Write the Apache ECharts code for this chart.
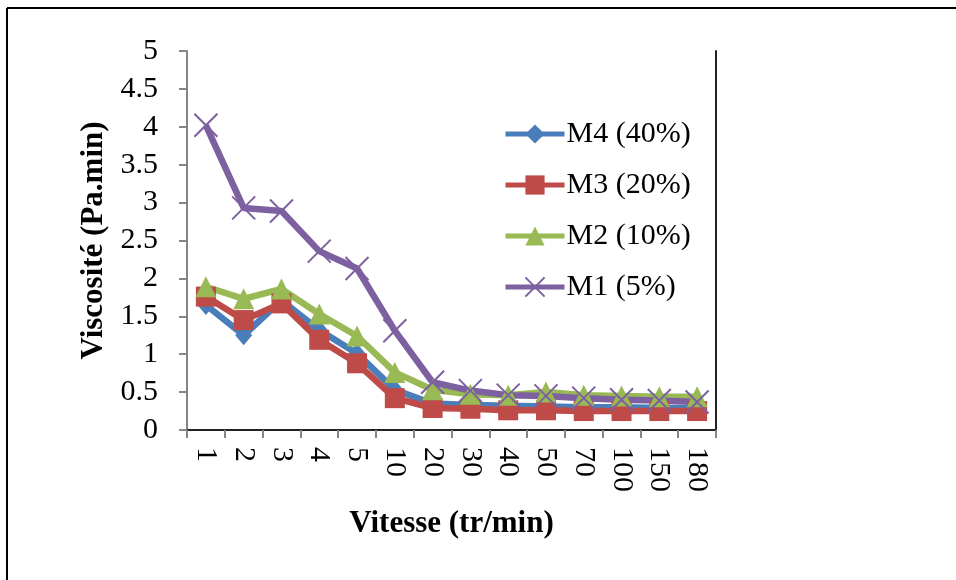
<!DOCTYPE html>
<html>
<head>
  <meta charset="utf-8" />
  <title>Viscosité</title>
  <script src="https://cdn.jsdelivr.net/npm/echarts@6/dist/echarts.min.js"></script>
  <style>
    body { margin: 0; background: #fff; }
  </style>
</head>
<body>
  <div id="main" style="width: 956px;height:580px;"></div>
  <script type="text/javascript">
    // vitesse (tr/min) et viscosité des 4 mélanges
    var vitesse = ['1', '2', '3', '4', '5', '10', '20', '30', '40', '50', '70', '100', '150', '180'];
    var m4 = [1.65, 1.25, 1.71, 1.32, 1.01, 0.53, 0.35, 0.33, 0.32, 0.31, 0.30, 0.30, 0.29, 0.29];
    var m3 = [1.76, 1.45, 1.67, 1.19, 0.88, 0.42, 0.29, 0.28, 0.26, 0.26, 0.25, 0.25, 0.25, 0.25];
    var m2 = [1.89, 1.73, 1.86, 1.53, 1.24, 0.76, 0.53, 0.47, 0.46, 0.50, 0.46, 0.45, 0.44, 0.44];
    var m1 = [4.02, 2.93, 2.89, 2.36, 2.13, 1.31, 0.63, 0.52, 0.46, 0.45, 0.42, 0.40, 0.39, 0.37];

    var font = '"Liberation Serif", "Times New Roman", serif';
    var gris = '#868686';

    var myChart = echarts.init(document.getElementById('main'));

    function serie(name, data, color, symbol, size) {
      return {
        name: name,
        type: 'line',
        data: data,
        symbol: symbol,
        symbolSize: size,
        showAllSymbol: true,
        lineStyle: { color: color, width: 6.5 },
        itemStyle: { color: color, borderColor: color, borderWidth: 0 },
        emphasis: { disabled: true },
        z: 3
      };
    }

    var s1 = serie('M1 (5%)', m1, '#7d60a0', 'path://M0,0L10,10M10,0L0,10', 23);
    s1.itemStyle = { color: 'none', borderColor: '#7d60a0', borderWidth: 2 };

    var option = {
      animation: false,
      textStyle: { fontFamily: font },
      grid: { left: 187, right: 240, top: 51, bottom: 150 },
      legend: {
        orient: 'vertical',
        left: 498,
        top: 114,
        itemWidth: 59,
        itemHeight: 24,
        itemGap: 21,
        lineStyle: { width: 5 },
        textStyle: { fontFamily: font, fontSize: 30, color: '#000', padding: [0, 0, 0, -3] },
        data: ['M4 (40%)', 'M3 (20%)', 'M2 (10%)', 'M1 (5%)']
      },
      graphic: [
        { type: 'line', shape: { x1: 7, y1: 8, x2: 7, y2: 580 }, style: { stroke: '#000', lineWidth: 2 } },
        { type: 'line', shape: { x1: 7, y1: 8, x2: 956, y2: 8 }, style: { stroke: '#000', lineWidth: 2 } }
      ],
      xAxis: [
        {
          type: 'category',
          data: vitesse,
          boundaryGap: true,
          name: 'Vitesse (tr/min)',
          nameLocation: 'middle',
          nameGap: 78,
          nameTextStyle: { fontFamily: font, fontSize: 31, fontWeight: 'bold', color: '#000' },
          axisLine: { lineStyle: { color: gris, width: 2 } },
          axisTick: { show: true, length: 8, lineStyle: { color: gris, width: 2 }, alignWithLabel: false },
          axisLabel: { rotate: -90, fontFamily: font, fontSize: 30, color: '#000', margin: 17, interval: 0 },
          splitLine: { show: false }
        },
        {
          type: 'category',
          data: vitesse,
          position: 'top',
          axisLine: { show: true, lineStyle: { color: '#222', width: 2 } },
          axisTick: { show: false },
          axisLabel: { show: false }
        }
      ],
      yAxis: [
        {
          type: 'value',
          min: 0,
          max: 5,
          interval: 0.5,
          name: 'Viscosité (Pa.min)',
          nameLocation: 'middle',
          nameGap: 72,
          nameTextStyle: { fontFamily: font, fontSize: 31, fontWeight: 'bold', color: '#000' },
          axisLine: { show: true, lineStyle: { color: gris, width: 2 } },
          axisTick: { show: true, length: 8, lineStyle: { color: gris, width: 2 } },
          axisLabel: { fontFamily: font, fontSize: 30, color: '#000', margin: 29 },
          splitLine: { show: false }
        },
        {
          type: 'value',
          min: 0,
          max: 5,
          interval: 0.5,
          position: 'right',
          axisLine: { show: true, lineStyle: { color: '#222', width: 2 } },
          axisTick: { show: false },
          axisLabel: { show: false },
          splitLine: { show: false }
        }
      ],
      series: [
        serie('M4 (40%)', m4, '#4a7ebb', 'diamond', [17, 20]),
        serie('M3 (20%)', m3, '#be4b48', 'rect', 20),
        serie('M2 (10%)', m2, '#98b954', 'triangle', 21),
        s1
      ]
    };
    option && myChart.setOption(option);
  </script>
</body>
</html>
